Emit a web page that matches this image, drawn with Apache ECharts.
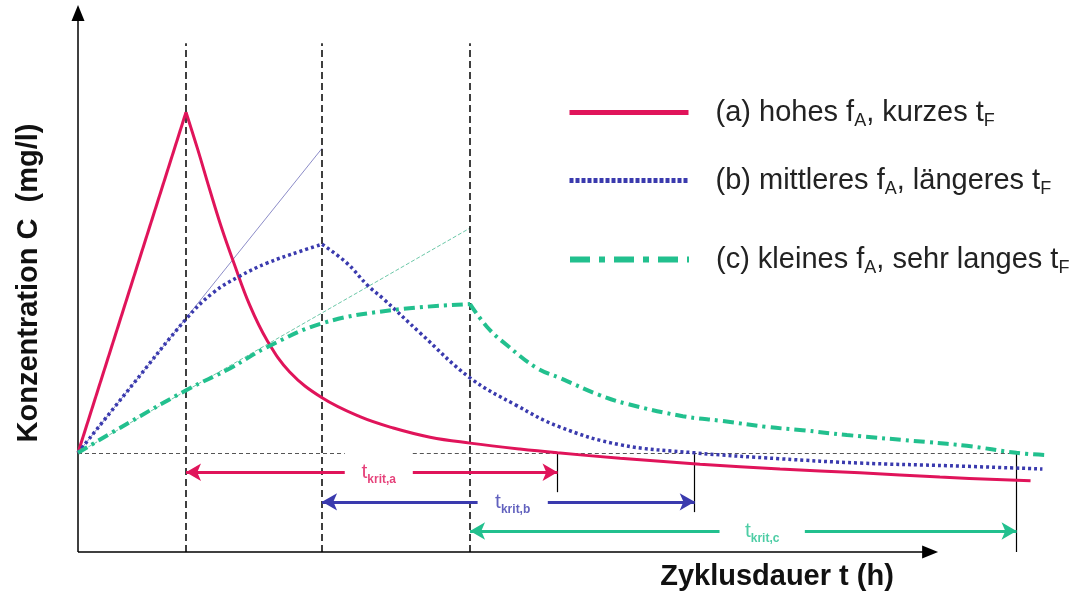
<!DOCTYPE html>
<html>
<head>
<meta charset="utf-8">
<script src="https://cdn.jsdelivr.net/npm/echarts@6/dist/echarts.min.js"></script>
<style>
  html, body { margin: 0; padding: 0; background: #fff; }
  #chart { width: 1082px; height: 591px; }
</style>
</head>
<body>
<div id="chart"></div>
<script>
// Schematic: concentration C over cycle time t for three filling regimes.
// Time and concentration are in relative units (no tick labels are drawn).
const T_MAX = 90;
const C_MAX = 100;

const threshold = 18.4;                 // critical concentration level
const fillEnds = [10.0, 22.6, 36.3];    // end of filling time t_F per case
const kritEnds = [44.4, 57.1, 86.9];    // end of t_krit per case
const kritTickBottoms = [11.1, 7.4, 0];
const arrowLevels = [14.8, 9.3, 3.9];
const labelGaps = [[24.7, 31.0], [37.0, 43.5], [59.4, 67.3]];
const kritLabels = ['krit,a', 'krit,b', 'krit,c'];
const guideTop = 94.4;
const xAxisEnd = 78.9;
const baselineGap = [24.7, 31.0];

// (a) high f_A, short t_F
const aRise = [[0, 18.4], [10.0, 81.6]];
const aDecay = [[10.0, 81.6], [11.1, 74.6], [12.2, 67.2], [13.3, 60.1], [14.4, 53.8], [15.9, 45.8],
  [17.5, 39.3], [19.6, 33.4], [22.6, 28.6], [26.1, 25.1], [29.2, 23.0], [32.6, 21.3], [36.3, 20.2],
  [40.9, 19.1], [44.4, 18.4], [50.2, 17.4], [57.6, 16.3], [65.0, 15.4], [72.4, 14.7], [79.8, 13.9], [88.2, 13.2]];

// (b) medium f_A, longer t_F
const bRise = [[0, 18.4], [5.0, 30.9], [10.0, 43.2], [12.5, 48.1], [15.0, 51.2], [17.5, 53.6], [20.6, 55.8], [22.6, 57.1]];
const bDecay = [[22.6, 57.1], [24.9, 53.6], [26.8, 49.5], [28.2, 47.1], [31.7, 40.6], [36.3, 32.3], [40.5, 27.3],
  [44.6, 23.2], [50.2, 19.9], [57.1, 18.4], [65.0, 17.3], [72.4, 16.5], [80.7, 16.0], [89.3, 15.4]];

// (c) small f_A, very long t_F
const cRise = [[0, 18.4], [4.8, 24.1], [10.1, 30.1], [14.1, 34.1], [17.5, 38.0], [22.7, 42.5], [29.2, 44.9], [36.3, 46.0]];
const cDecay = [[36.3, 46.0], [37.9, 41.7], [39.7, 38.4], [42.5, 34.1], [44.6, 32.3], [48.3, 29.1], [50.8, 27.5],
  [56.0, 25.2], [59.7, 24.3], [63.8, 23.2], [67.1, 22.6], [71.2, 21.7], [78.6, 20.4], [82.3, 19.7], [86.9, 18.4], [89.5, 18.0]];

// initial slopes (tangents) of (b) and (c)
const bTangent = [[0, 18.4], [22.6, 74.9]];
const cTangent = [[0, 18.4], [36.3, 60.1]];

const seriesNames = ['a', 'b', 'c'];
const legendLabels = [
  '(a) hohes f{s|A}, kurzes t{s|F}',
  '(b) mittleres f{s|A}, längeres t{s|F}',
  '(c) kleines f{s|A}, sehr langes t{s|F}'
];
const legendRows = [111, 179, 258];
const xTitle = 'Zyklusdauer t (h)';
const yTitle = 'Konzentration C  (mg/l)';

const RED = '#e0145a';
const BLUE = '#3a3aae';
const GREEN = '#22c08e';
const colors = [RED, BLUE, GREEN];
const FONT = '"Liberation Sans", Arial, sans-serif';

const curveStyles = [
  { color: RED, width: 3, type: 'solid' },
  { color: BLUE, width: 3.5, type: [3, 3] },
  { color: GREEN, width: 4, type: [11, 5, 3, 5] }
];
const legendLineStyles = [
  { width: 5, type: 'solid' },
  { width: 5, type: [4, 2] },
  { width: 6, type: [20, 9, 6, 9] }
];

function curve(name, data, style, smooth) {
  return {
    type: 'line', name, data, smooth, symbol: 'none', silent: true,
    itemStyle: { color: style.color },
    lineStyle: Object.assign({ cap: 'butt' }, style), z: 5
  };
}

// guide lines: axes, dashed t_F markers, threshold, t_krit arrows
const guides = [];
const pt = (x, y, symbol) => ({ coord: [x, y], symbol: symbol || 'none' });
guides.push([Object.assign(pt(0, 0), { lineStyle: { color: '#000', width: 1.5, type: 'solid' } }),
  Object.assign(pt(0, C_MAX, 'triangle'), { symbolSize: [13, 16] })]);
guides.push([Object.assign(pt(0, 0), { lineStyle: { color: '#000', width: 1.5, type: 'solid' } }),
  Object.assign(pt(xAxisEnd, 0, 'triangle'), { symbolSize: [13, 16] })]);
fillEnds.forEach(x => {
  guides.push([Object.assign(pt(x, 0), { lineStyle: { color: '#000', width: 1.5, type: [7, 4] } }), pt(x, guideTop)]);
});
guides.push([Object.assign(pt(0, threshold), { lineStyle: { color: '#555', width: 1, type: [4, 3] } }), pt(baselineGap[0], threshold)]);
guides.push([Object.assign(pt(baselineGap[1], threshold), { lineStyle: { color: '#555', width: 1, type: [4, 3] } }), pt(kritEnds[2], threshold)]);
kritEnds.forEach((x, i) => {
  guides.push([Object.assign(pt(x, threshold), { lineStyle: { color: '#000', width: 1.2, type: 'solid' } }), pt(x, kritTickBottoms[i])]);
  const y = arrowLevels[i];
  const st = { color: colors[i], width: 3, type: 'solid' };
  guides.push([Object.assign(pt(labelGaps[i][0], y), { lineStyle: st }),
    Object.assign(pt(fillEnds[i], y, 'arrow'), { symbolSize: [13, 15], itemStyle: { color: colors[i] } })]);
  guides.push([Object.assign(pt(labelGaps[i][1], y), { lineStyle: st }),
    Object.assign(pt(x, y, 'arrow'), { symbolSize: [13, 15], itemStyle: { color: colors[i] } })]);
});

const kritLabelData = kritLabels.map((txt, i) => ({
  value: [(labelGaps[i][0] + labelGaps[i][1]) / 2, arrowLevels[i]],
  label: {
    show: true, position: 'inside', formatter: '{t|t}{s|' + txt + '}',
    rich: {
      t: { fontSize: 21, color: colors[i], fontFamily: FONT },
      s: { fontSize: 12, fontWeight: 'bold', color: colors[i], fontFamily: FONT, padding: [15, 0, 0, 0] }
    }
  }
}));

const chart = echarts.init(document.getElementById('chart'), null, { renderer: 'canvas' });
chart.setOption({
  animation: false,
  backgroundColor: '#fff',
  grid: { left: 78, right: 32, top: 13, bottom: 39 },
  xAxis: { type: 'value', min: 0, max: T_MAX, show: false },
  yAxis: { type: 'value', min: 0, max: C_MAX, show: false },
  legend: seriesNames.map((n, i) => ({
    data: [n], orient: 'vertical', left: 567, top: legendRows[i] - 13, padding: 0,
    itemWidth: 119, itemHeight: 16, selectedMode: false,
    formatter: () => legendLabels[i],
    lineStyle: legendLineStyles[i],
    itemStyle: { opacity: 0 },
    textStyle: {
      fontSize: 29, color: '#222', fontFamily: FONT, padding: [0, 0, 0, 22],
      rich: { s: { fontSize: 18, color: '#222', fontFamily: FONT, padding: [17, 0, 0, 0] } }
    }
  })),
  series: [
    {
      type: 'line', name: 'tb', data: bTangent, symbol: 'none', silent: true, z: 2,
      lineStyle: { color: '#8c8cc8', width: 1 },
      markLine: {
        silent: true, symbol: ['none', 'none'], label: { show: false },
        emphasis: { disabled: true }, animation: false, z: 3,
        data: guides
      }
    },
    {
      type: 'line', name: 'tc', data: cTangent, symbol: 'none', silent: true, z: 2,
      lineStyle: { color: '#6cc8a8', width: 1, type: [4, 2] }
    },
    curve('a', aRise, curveStyles[0], false),
    curve('a', aDecay, curveStyles[0], 0.4),
    curve('b', bRise, curveStyles[1], 0.4),
    curve('b', bDecay, curveStyles[1], 0.4),
    curve('c', cRise, curveStyles[2], 0.4),
    curve('c', cDecay, curveStyles[2], 0.4),
    {
      type: 'scatter', name: 'krit', data: kritLabelData, symbolSize: 1, silent: true, z: 10,
      itemStyle: { color: 'rgba(0,0,0,0)' }
    }
  ],
  graphic: [
    {
      type: 'text', x: 777, y: 577,
      style: { text: xTitle, font: 'bold 29px ' + FONT, fill: '#111', align: 'center', verticalAlign: 'middle' }
    },
    {
      type: 'text', x: 29, y: 283, rotation: Math.PI / 2,
      style: { text: yTitle, font: 'bold 29px ' + FONT, fill: '#111', align: 'center', verticalAlign: 'middle' }
    }
  ]
});
</script>
</body>
</html>
